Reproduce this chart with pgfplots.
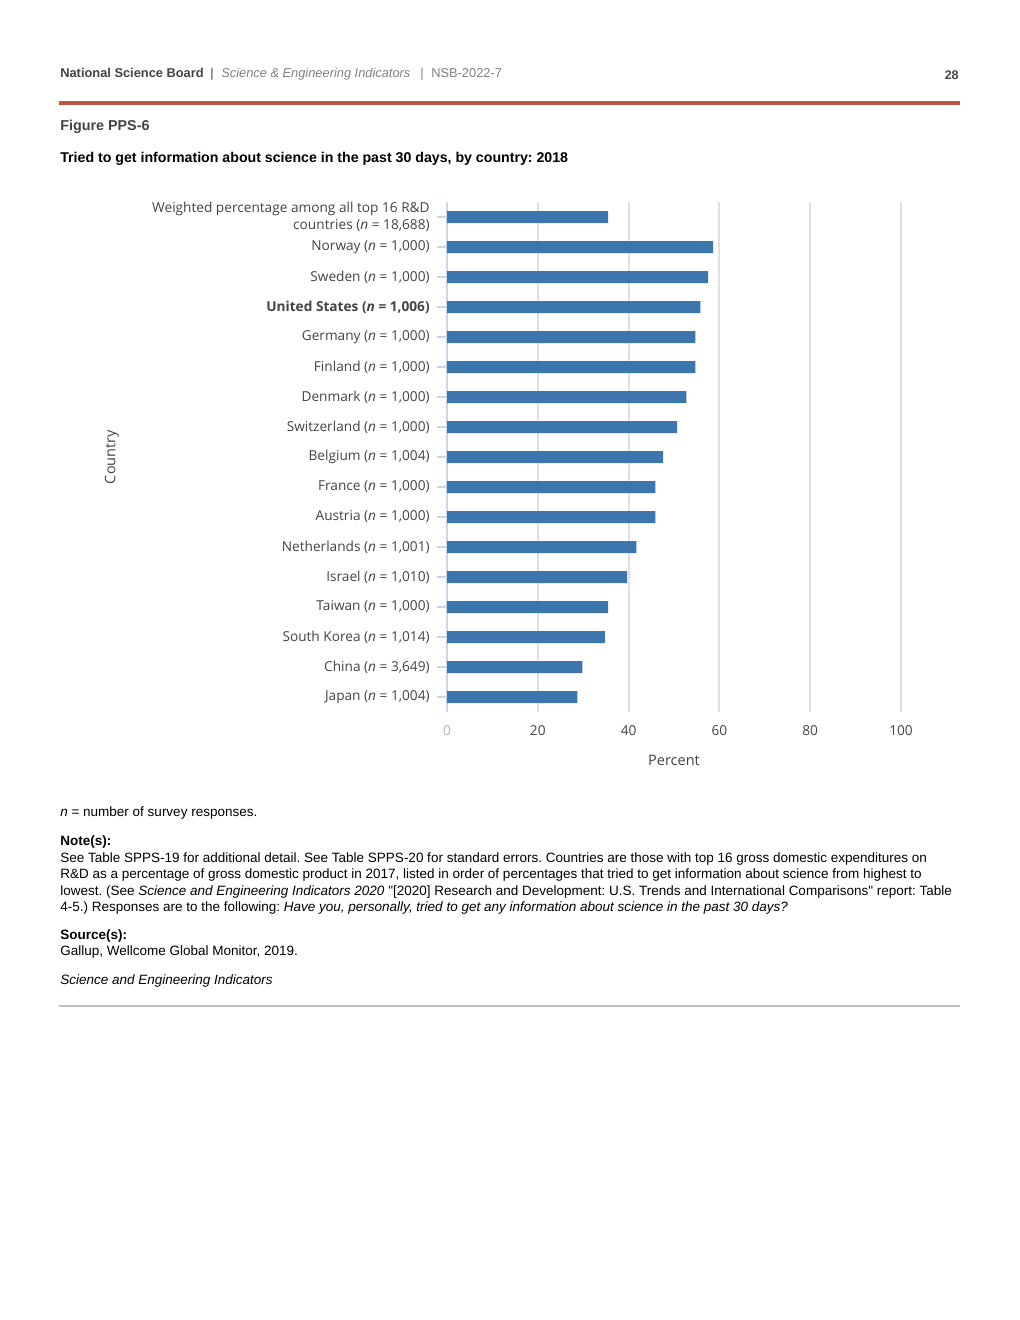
\documentclass[border=0pt]{standalone}
\usepackage{fontspec}
\setmainfont{Liberation Sans}
\newfontfamily\chartfont{Open Sans}
\usepackage{pgfplots}
\pgfplotsset{compat=1.18}
\frenchspacing
\definecolor{barblue}{RGB}{60,118,175}
\definecolor{gridc}{RGB}{224,224,224}
\definecolor{axisc}{RGB}{204,214,235}
\definecolor{labc}{RGB}{68,68,68}
\definecolor{hdr}{RGB}{68,68,68}
\definecolor{redline}{RGB}{194,84,66}
\definecolor{grayline}{RGB}{190,190,190}
\pgfplotstableread{
y v
0 28.7
1 29.8
2 34.8
3 35.5
4 39.7
5 41.7
6 45.9
7 45.9
8 47.6
9 50.7
10 52.7
11 54.7
12 54.7
13 55.8
14 57.5
15 58.6
16 35.5
}\datatable
\begin{document}
\begin{tikzpicture}
\begin{scope}[x=0.6bp,y=-0.6bp]
\fill[white] (0,0) rectangle (1020,1320);
% header
\tikzset{hd/.style={anchor=base west,inner sep=0,font=\fontsize{7.7bp}{9bp}\selectfont,text=hdr}}
\node[hd] at (60,77.5) {\textbf{National Science Board}};
\node[hd] at (210,77.5) {|};
\node[hd,text=gray] at (221,77.5) {\textit{Science \& Engineering Indicators}};
\node[hd,text=gray] at (420,77.5) {|};
\node[hd,text=gray] at (431,77.5) {NSB-2022-7};
\node[anchor=base east,inner sep=0,font=\fontsize{7.5bp}{9bp}\selectfont\bfseries,text=hdr] at (959,79) {28};
\draw[redline,line width=2.4bp] (59,103) -- (960,103);
\node[anchor=base west,inner sep=0,font=\fontsize{8.6bp}{10bp}\selectfont\bfseries,text=hdr] at (60,130) {Figure PPS-6};
\node[anchor=base west,inner sep=0,font=\fontsize{8.5bp}{10bp}\selectfont\bfseries,text=black] at (60,162) {Tried to get information about science in the past 30 days, by country: 2018};
% notes
\tikzset{nt/.style={anchor=base west,inner sep=0,font=\fontsize{8.1bp}{9bp}\selectfont,text=black}}
\node[nt] at (60,816.5) {\textit{n} = number of survey responses.};
\node[nt] at (60,845.5) {\textbf{Note(s):}};
\node[nt] at (60,862) {See Table SPPS-19 for additional detail. See Table SPPS-20 for standard errors. Countries are those with top 16 gross domestic expenditures on};
\node[nt] at (60,878.5) {R\&D as a percentage of gross domestic product in 2017, listed in order of percentages that tried to get information about science from highest to};
\node[nt] at (60,895) {lowest. (See \textit{Science and Engineering Indicators 2020} \textquotedbl[2020] Research and Development: U.S. Trends and International Comparisons\textquotedbl\ report: Table};
\node[nt] at (60,911) {4-5.) Responses are to the following: \textit{Have you, personally, tried to get any information about science in the past 30 days?}};
\node[nt] at (60,939.5) {\textbf{Source(s):}};
\node[nt] at (60,955.5) {Gallup, Wellcome Global Monitor, 2019.};
\node[nt] at (60,984.5) {\textit{Science and Engineering Indicators}};
\draw[grayline,line width=1.2bp] (59,1006) -- (960,1006);
\end{scope}
% chart
\begin{axis}[
  at={(268.2bp,-427.2bp)}, anchor=south west,
  scale only axis, width=272.4bp, height=306bp,
  xmin=0, xmax=100, ymin=-0.5, ymax=16.5,
  xbar, bar width=7.2bp,
  axis lines*=left,
  x axis line style={draw=none},
  y axis line style={draw=axisc,line width=1bp},
  xtick={0,20,40,60,80,100},
  xticklabels={{\color{lightgray!80!gray}0},20,40,60,80,100},
  xtick style={draw=none},
  xmajorgrids, grid style={draw=gridc,line width=1.2bp},
  ytick={0,...,16},
  yticklabels={
    {Japan (\textit{n} = 1,004)},
    {China (\textit{n} = 3,649)},
    {South Korea (\textit{n} = 1,014)},
    {Taiwan (\textit{n} = 1,000)},
    {Israel (\textit{n} = 1,010)},
    {Netherlands (\textit{n} = 1,001)},
    {Austria (\textit{n} = 1,000)},
    {France (\textit{n} = 1,000)},
    {Belgium (\textit{n} = 1,004)},
    {Switzerland (\textit{n} = 1,000)},
    {Denmark (\textit{n} = 1,000)},
    {Finland (\textit{n} = 1,000)},
    {Germany (\textit{n} = 1,000)},
    {\textbf{United States (\textit{n} = 1,006)}},
    {Sweden (\textit{n} = 1,000)},
    {Norway (\textit{n} = 1,000)},
    {Weighted percentage among all top 16 R\&D\\countries (\textit{n} = 18,688)}
  },
  tick align=outside,
  major tick length=6bp,
  ytick style={draw=axisc,line width=0.8bp},
  yticklabel style={font=\chartfont\fontsize{8.2bp}{10.2bp}\selectfont,text=labc,align=right,inner sep=0,anchor=east,xshift=-4.2bp},
  xticklabel style={font=\chartfont\fontsize{8.2bp}{10bp}\selectfont,text=labc,inner sep=0,anchor=center,yshift=-5.4bp},
  xlabel={Percent},
  xlabel style={at={(axis description cs:0.5,-0.0941)},anchor=center,font=\chartfont\fontsize{8.7bp}{10bp}\selectfont,text=labc,inner sep=0},
  ylabel={Country},
  ylabel style={at={(axis description cs:-0.738,0.5)},anchor=center,font=\chartfont\fontsize{8.7bp}{10bp}\selectfont,text=labc,inner sep=0},
  clip=false,
]
\addplot[fill=barblue,draw=none] table[x=v,y=y] {\datatable};
\end{axis}
\end{tikzpicture}
\end{document}
